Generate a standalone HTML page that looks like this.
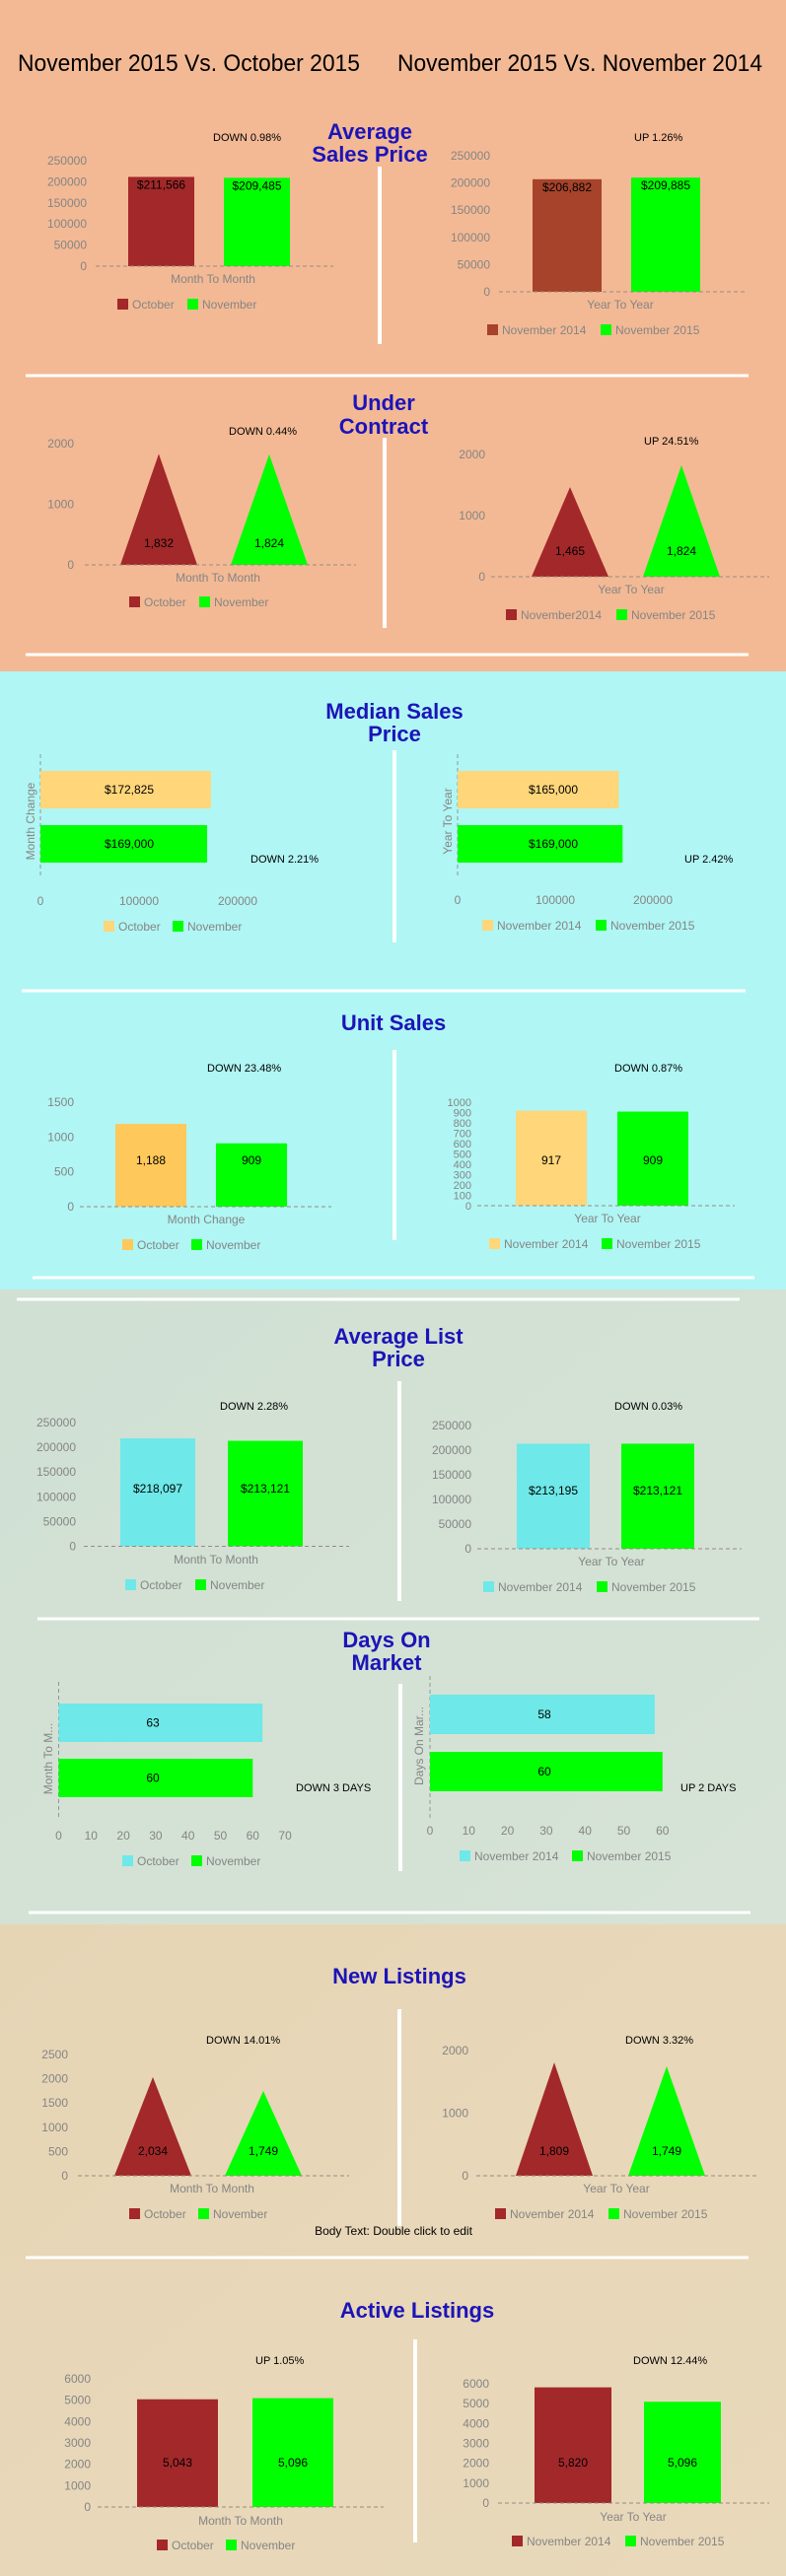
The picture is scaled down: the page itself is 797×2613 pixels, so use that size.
<!DOCTYPE html>
<html><head><meta charset="utf-8"><style>
body{margin:0;padding:0;width:797px;height:2613px;overflow:hidden;font-family:"Liberation Sans",sans-serif}
svg{display:block}
</style></head><body>
<svg id="page" width="797" height="2613" viewBox="0 0 797 2613" xmlns="http://www.w3.org/2000/svg" font-family="Liberation Sans, sans-serif">
<defs>
<linearGradient id="tanGrad" x1="0" y1="0" x2="1" y2="1"><stop offset="0" stop-color="#E6D5B5"/><stop offset="1" stop-color="#E9D9BB"/></linearGradient>
<linearGradient id="sageGrad" x1="0" y1="0" x2="1" y2="1"><stop offset="0" stop-color="#D0E0D3"/><stop offset="1" stop-color="#D6E3D6"/></linearGradient>
</defs>
<rect x="0" y="0" width="797" height="681" fill="#F3B994"/>
<rect x="0" y="681" width="797" height="627" fill="#B0F6F4"/>
<rect x="0" y="1308" width="797" height="644" fill="url(#sageGrad)"/>
<rect x="0" y="1952" width="797" height="661" fill="url(#tanGrad)"/>

<text x="18" y="72" font-size="24" fill="#000" textLength="347" lengthAdjust="spacingAndGlyphs">November 2015 Vs. October 2015</text>
<text x="403" y="72" font-size="24" fill="#000" textLength="370" lengthAdjust="spacingAndGlyphs">November 2015 Vs. November 2014</text>

<g font-weight="bold" font-size="22" fill="#1C14B8" text-anchor="middle">
<text x="375" y="141">Average</text>
<text x="375" y="164">Sales Price</text>
<text x="389" y="416">Under</text>
<text x="389" y="440">Contract</text>
<text x="400" y="729">Median Sales</text>
<text x="400" y="752">Price</text>
<text x="399" y="1045">Unit Sales</text>
<text x="404" y="1363">Average List</text>
<text x="404" y="1386">Price</text>
<text x="392" y="1671">Days On</text>
<text x="392" y="1694">Market</text>
<text x="405" y="2012">New Listings</text>
<text x="423" y="2351">Active Listings</text>
</g>

<g stroke="#fff">
<line x1="385" y1="169" x2="385" y2="349" stroke-width="4"/>
<line x1="26" y1="381" x2="759" y2="381" stroke-width="3"/>
<line x1="390" y1="444" x2="390" y2="637" stroke-width="4"/>
<line x1="26" y1="664" x2="759" y2="664" stroke-width="3"/>
<line x1="400" y1="761" x2="400" y2="956" stroke-width="4"/>
<line x1="22" y1="1005" x2="756" y2="1005" stroke-width="3"/>
<line x1="400" y1="1065" x2="400" y2="1258" stroke-width="4"/>
<line x1="33" y1="1296" x2="765" y2="1296" stroke-width="3"/>
<line x1="17" y1="1318" x2="750" y2="1318" stroke-width="3"/>
<line x1="405" y1="1401" x2="405" y2="1624" stroke-width="4"/>
<line x1="38" y1="1642" x2="770" y2="1642" stroke-width="3"/>
<line x1="406" y1="1708" x2="406" y2="1898" stroke-width="4"/>
<line x1="29" y1="1940" x2="761" y2="1940" stroke-width="3"/>
<line x1="405" y1="2038" x2="405" y2="2258" stroke-width="4"/>
<line x1="26" y1="2290" x2="759" y2="2290" stroke-width="3"/>
<line x1="421" y1="2373" x2="421" y2="2579" stroke-width="4"/>
</g>
<text x="399" y="2267" font-size="12" text-anchor="middle" fill="#000">Body Text: Double click to edit</text>
<g id="charts"></g>
</svg>
<script>
// ---- data ----
const momCats = ['October', 'November'];
const yoyCats = ['November 2014', 'November 2015'];
const ucYoyCats = ['November2014', 'November 2015'];

const avgSalesMomVals = [211566, 209485];
const avgSalesMomLabels = ['$211,566', '$209,485'];
const avgSalesYoyVals = [206882, 209885];
const avgSalesYoyLabels = ['$206,882', '$209,885'];
const avgSalesTicks = [0, 50000, 100000, 150000, 200000, 250000];

const ucMomVals = [1832, 1824];
const ucMomLabels = ['1,832', '1,824'];
const ucYoyVals = [1465, 1824];
const ucYoyLabels = ['1,465', '1,824'];
const ucTicks = [0, 1000, 2000];

const medianMomVals = [172825, 169000];
const medianMomLabels = ['$172,825', '$169,000'];
const medianYoyVals = [165000, 169000];
const medianYoyLabels = ['$165,000', '$169,000'];
const medianTicks = [0, 100000, 200000];

const unitMomVals = [1188, 909];
const unitMomLabels = ['1,188', '909'];
const unitYoyVals = [917, 909];
const unitYoyLabels = ['917', '909'];
const unitMomTicks = [0, 500, 1000, 1500];
const unitYoyTicks = [0, 100, 200, 300, 400, 500, 600, 700, 800, 900, 1000];

const listMomVals = [218097, 213121];
const listMomLabels = ['$218,097', '$213,121'];
const listYoyVals = [213195, 213121];
const listYoyLabels = ['$213,195', '$213,121'];
const listTicks = [0, 50000, 100000, 150000, 200000, 250000];

const domMomVals = [63, 60];
const domMomLabels = ['63', '60'];
const domYoyVals = [58, 60];
const domYoyLabels = ['58', '60'];
const domMomTicks = [0, 10, 20, 30, 40, 50, 60, 70];
const domYoyTicks = [0, 10, 20, 30, 40, 50, 60];

const newMomVals = [2034, 1749];
const newMomLabels = ['2,034', '1,749'];
const newYoyVals = [1809, 1749];
const newYoyLabels = ['1,809', '1,749'];
const newMomTicks = [0, 500, 1000, 1500, 2000, 2500];
const newYoyTicks = [0, 1000, 2000];

const activeMomVals = [5043, 5096];
const activeMomLabels = ['5,043', '5,096'];
const activeYoyVals = [5820, 5096];
const activeYoyLabels = ['5,820', '5,096'];
const activeTicks = [0, 1000, 2000, 3000, 4000, 5000, 6000];

// ---- rendering ----
const NS = 'http://www.w3.org/2000/svg';
const root = document.getElementById('charts');
const RED = '#A3282A', SIENNA = '#A6432A', GREEN = '#00FF00', YEL = '#FFD67A', ORG = '#FFC85A', CYAN = '#6EE8E8';
const GRAY = '#858585';

function mk(tag, attrs, parent, txt) {
  const e = document.createElementNS(NS, tag);
  for (const k in attrs) e.setAttribute(k, attrs[k]);
  if (txt !== undefined) e.textContent = txt;
  parent.appendChild(e);
  return e;
}

function legend(g, c) {
  c.cats.forEach((cat, i) => {
    const s = mk('rect', {x: c.legX[i], y: c.legY - 6, width: 11, height: 11, fill: c.colors[i]}, g);
    
    
    const t = mk('text', {x: c.legX[i] + 15, y: c.legY + 4, 'font-size': 12, fill: GRAY}, g, cat);
    
    
  });
}

function note(g, c) {
  const t = mk('text', {x: c.noteX, y: c.noteY + 4, 'font-size': 11, fill: '#000'}, g, c.note);
  
  
}

function vchart(c) {
  const g = mk('g', {}, root);
  
  
  const tickMax = c.ticks[c.ticks.length - 1];
  const y = v => c.y0 - v / tickMax * (c.y0 - c.yMax);
  c.ticks.forEach(t => {
    const tx = mk('text', {x: c.tickRight, y: y(t) + 4, 'font-size': c.tickFs || 12, fill: GRAY, 'text-anchor': 'end'}, g, String(t));
    
    
  });
  c.vals.forEach((v, i) => {
    const x = c.bx + i * c.step;
    let m;
    if (c.tri) {
      m = mk('polygon', {points: `${x},${c.y0} ${x + c.bw / 2},${y(v)} ${x + c.bw},${c.y0}`, fill: c.colors[i]}, g);
    } else {
      m = mk('rect', {x: x, y: y(v), width: c.bw, height: c.y0 - y(v), fill: c.colors[i]}, g);
    }
    
    
    const ly = c.labelTop ? y(v) + 12 : c.labelY + 4;
    const l = mk('text', {x: x + c.bw / 2, y: ly, 'font-size': 12, fill: '#000', 'text-anchor': 'middle'}, g, c.labels[i]);
    
    
  });
  const bl = mk('line', {x1: c.base[0], y1: c.y0, x2: c.base[1], y2: c.y0, stroke: '#9a8a80', 'stroke-dasharray': '4,3', 'stroke-width': 1}, g);
  
  
  const xt = mk('text', {x: c.xtX, y: c.xtY + 4, 'font-size': 12, fill: GRAY, 'text-anchor': 'middle'}, g, c.xTitle);
  
  
  legend(g, c);
  note(g, c);
}

function hchart(c) {
  const g = mk('g', {}, root);
  
  
  const x = v => c.axisX + v * c.ppu;
  const ax = mk('line', {x1: c.axisX, y1: c.axisTop, x2: c.axisX, y2: c.axisBot, stroke: '#8a9a9a', 'stroke-dasharray': '4,3'}, g);
  
  
  c.ticks.forEach(t => {
    const tx = mk('text', {x: x(t), y: c.tickY + 4, 'font-size': 12, fill: GRAY, 'text-anchor': 'middle'}, g, String(t));
    
    
  });
  c.vals.forEach((v, i) => {
    const by = c.barTop + i * c.step;
    const r = mk('rect', {x: c.axisX, y: by, width: x(v) - c.axisX, height: c.barH, fill: c.colors[i]}, g);
    
    
    const l = mk('text', {x: c.labelX, y: by + c.barH / 2 + 4, 'font-size': 12, fill: '#000', 'text-anchor': 'middle'}, g, c.labels[i]);
    
    
  });
  const yt = mk('text', {x: c.ytX, y: c.ytY, 'font-size': 12, fill: GRAY, 'text-anchor': 'middle', transform: `rotate(-90 ${c.ytX} ${c.ytY})`}, g, c.yTitle);
  
  
  legend(g, c);
  note(g, c);
}

// Average Sales Price
vchart({name: 'avg-sales-mom-chart', cats: momCats, vals: avgSalesMomVals, labels: avgSalesMomLabels, colors: [RED, GREEN], ticks: avgSalesTicks,
  y0: 270, yMax: 163, tickRight: 88, base: [97, 338], bx: 130, bw: 67, step: 97, labelTop: true,
  xTitle: 'Month To Month', xtX: 216, xtY: 283, legY: 309, legX: [119, 190], note: 'DOWN 0.98%', noteX: 216, noteY: 139});
vchart({name: 'avg-sales-yoy-chart', cats: yoyCats, vals: avgSalesYoyVals, labels: avgSalesYoyLabels, colors: [SIENNA, GREEN], ticks: avgSalesTicks,
  y0: 296, yMax: 158, tickRight: 497, base: [506, 755], bx: 540, bw: 70, step: 100, labelTop: true,
  xTitle: 'Year To Year', xtX: 629, xtY: 309, legY: 335, legX: [494, 609], note: 'UP 1.26%', noteX: 643, noteY: 139});
// Under Contract
vchart({name: 'under-contract-mom-chart', cats: momCats, vals: ucMomVals, labels: ucMomLabels, colors: [RED, GREEN], ticks: ucTicks,
  y0: 573, yMax: 450, tickRight: 75, base: [86, 361], bx: 122, bw: 78, step: 112, tri: true, labelY: 551,
  xTitle: 'Month To Month', xtX: 221, xtY: 586, legY: 611, legX: [131, 202], note: 'DOWN 0.44%', noteX: 232, noteY: 437});
vchart({name: 'under-contract-yoy-chart', cats: ucYoyCats, vals: ucYoyVals, labels: ucYoyLabels, colors: [RED, GREEN], ticks: ucTicks,
  y0: 585, yMax: 461, tickRight: 492, base: [498, 780], bx: 539, bw: 78, step: 113, tri: true, labelY: 559,
  xTitle: 'Year To Year', xtX: 640, xtY: 598, legY: 624, legX: [513, 625], note: 'UP 24.51%', noteX: 653, noteY: 447});
// Median Sales Price
hchart({name: 'median-price-mom-chart', cats: momCats, vals: medianMomVals, labels: medianMomLabels, colors: [YEL, GREEN], ticks: medianTicks,
  axisX: 41, ppu: 100 / 100000, axisTop: 765, axisBot: 891, barTop: 782, barH: 38, step: 55, tickY: 914, labelX: 131,
  yTitle: 'Month Change', ytX: 35, ytY: 833, legY: 940, legX: [105, 175], note: 'DOWN 2.21%', noteX: 254, noteY: 871});
hchart({name: 'median-price-yoy-chart', cats: yoyCats, vals: medianYoyVals, labels: medianYoyLabels, colors: [YEL, GREEN], ticks: medianTicks,
  axisX: 464, ppu: 99 / 100000, axisTop: 765, axisBot: 891, barTop: 782, barH: 38, step: 55, tickY: 913, labelX: 561,
  yTitle: 'Year To Year', ytX: 458, ytY: 833, legY: 939, legX: [489, 604], note: 'UP 2.42%', noteX: 694, noteY: 871});
// Unit Sales
vchart({name: 'unit-sales-mom-chart', cats: momCats, vals: unitMomVals, labels: unitMomLabels, colors: [ORG, GREEN], ticks: unitMomTicks,
  y0: 1224, yMax: 1118, tickRight: 75, base: [81, 336], bx: 117, bw: 72, step: 102, labelY: 1177,
  xTitle: 'Month Change', xtX: 209, xtY: 1237, legY: 1263, legX: [124, 194], note: 'DOWN 23.48%', noteX: 210, noteY: 1083});
vchart({name: 'unit-sales-yoy-chart', cats: yoyCats, vals: unitYoyVals, labels: unitYoyLabels, colors: [YEL, GREEN], ticks: unitYoyTicks, tickFs: 11,
  y0: 1223, yMax: 1118, tickRight: 478, base: [484, 745], bx: 523, bw: 72, step: 103, labelY: 1177,
  xTitle: 'Year To Year', xtX: 616, xtY: 1236, legY: 1262, legX: [496, 610], note: 'DOWN 0.87%', noteX: 623, noteY: 1083});
// Average List Price
vchart({name: 'avg-list-mom-chart', cats: momCats, vals: listMomVals, labels: listMomLabels, colors: [CYAN, GREEN], ticks: listTicks,
  y0: 1568.5, yMax: 1443, tickRight: 77, base: [85, 354], bx: 122, bw: 76, step: 109, labelY: 1510,
  xTitle: 'Month To Month', xtX: 219, xtY: 1582, legY: 1608, legX: [127, 198], note: 'DOWN 2.28%', noteX: 223, noteY: 1426});
vchart({name: 'avg-list-yoy-chart', cats: yoyCats, vals: listYoyVals, labels: listYoyLabels, colors: [CYAN, GREEN], ticks: listTicks,
  y0: 1571, yMax: 1446, tickRight: 478, base: [484, 752], bx: 524, bw: 74, step: 106, labelY: 1512,
  xTitle: 'Year To Year', xtX: 620, xtY: 1584, legY: 1610, legX: [490, 605], note: 'DOWN 0.03%', noteX: 623, noteY: 1426});
// Days On Market
hchart({name: 'days-on-market-mom-chart', cats: momCats, vals: domMomVals, labels: domMomLabels, colors: [CYAN, GREEN], ticks: domMomTicks,
  axisX: 59.5, ppu: 3.28, axisTop: 1706, axisBot: 1843, barTop: 1728, barH: 39, step: 56, tickY: 1862, labelX: 155,
  yTitle: 'Month To M...', ytX: 53, ytY: 1784, legY: 1888, legX: [124, 194], note: 'DOWN 3 DAYS', noteX: 300, noteY: 1813});
hchart({name: 'days-on-market-yoy-chart', cats: yoyCats, vals: domYoyVals, labels: domYoyLabels, colors: [CYAN, GREEN], ticks: domYoyTicks,
  axisX: 436, ppu: 3.93, axisTop: 1700, axisBot: 1847, barTop: 1719, barH: 40, step: 58, tickY: 1857, labelX: 552,
  yTitle: 'Days On Mar...', ytX: 429, ytY: 1771, legY: 1883, legX: [466, 580], note: 'UP 2 DAYS', noteX: 690, noteY: 1813});
// New Listings
vchart({name: 'new-listings-mom-chart', cats: momCats, vals: newMomVals, labels: newMomLabels, colors: [RED, GREEN], ticks: newMomTicks,
  y0: 2207, yMax: 2084, tickRight: 69, base: [79, 354], bx: 116, bw: 78, step: 112, tri: true, labelY: 2182,
  xTitle: 'Month To Month', xtX: 215, xtY: 2220, legY: 2246, legX: [131, 201], note: 'DOWN 14.01%', noteX: 209, noteY: 2069});
vchart({name: 'new-listings-yoy-chart', cats: yoyCats, vals: newYoyVals, labels: newYoyLabels, colors: [RED, GREEN], ticks: newYoyTicks,
  y0: 2207, yMax: 2080, tickRight: 475, base: [483, 768], bx: 523, bw: 78, step: 114, tri: true, labelY: 2182,
  xTitle: 'Year To Year', xtX: 625, xtY: 2220, legY: 2246, legX: [502, 617], note: 'DOWN 3.32%', noteX: 634, noteY: 2069});
// Active Listings
vchart({name: 'active-listings-mom-chart', cats: momCats, vals: activeMomVals, labels: activeMomLabels, colors: [RED, GREEN], ticks: activeTicks,
  y0: 2543, yMax: 2413, tickRight: 92, base: [99, 389], bx: 139, bw: 82, step: 117, labelY: 2498,
  xTitle: 'Month To Month', xtX: 244, xtY: 2557, legY: 2582, legX: [159, 229], note: 'UP 1.05%', noteX: 259, noteY: 2394});
vchart({name: 'active-listings-yoy-chart', cats: yoyCats, vals: activeYoyVals, labels: activeYoyLabels, colors: [RED, GREEN], ticks: activeTicks,
  y0: 2539, yMax: 2418, tickRight: 496, base: [505, 780], bx: 542, bw: 78, step: 111, labelY: 2498,
  xTitle: 'Year To Year', xtX: 642, xtY: 2553, legY: 2578, legX: [519, 634], note: 'DOWN 12.44%', noteX: 642, noteY: 2394});
</script>
</body></html>
